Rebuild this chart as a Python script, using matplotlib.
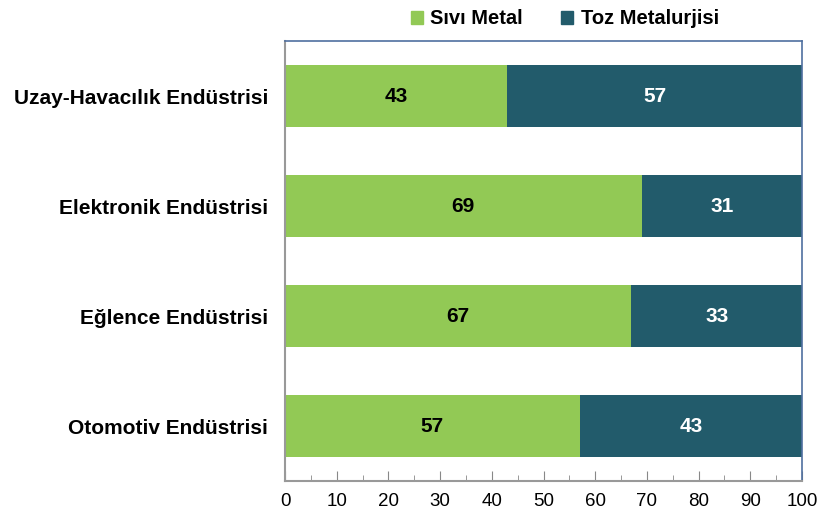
import matplotlib
matplotlib.use("Agg")
import matplotlib.pyplot as plt
from matplotlib.ticker import MultipleLocator
from matplotlib.patches import Patch

plt.rcParams['font.family'] = ['Liberation Sans', 'DejaVu Sans']

categories = ["Otomotiv Endüstrisi", "Eğlence Endüstrisi", "Elektronik Endüstrisi", "Uzay-Havacılık Endüstrisi"]
sivi = [57, 67, 69, 43]
toz = [43, 33, 31, 57]
series_names = ["Sıvı Metal", "Toz Metalurjisi"]
green = "#92C955"
teal = "#225B6B"

fig = plt.figure(figsize=(8.22, 5.18), dpi=100)
ax = fig.add_axes([285/822, 1-481/518, (802-285)/822, (481-41)/518])

y = list(range(len(categories)))
ax.barh(y, sivi, height=0.56, color=green)
ax.barh(y, toz, left=sivi, height=0.56, color=teal)
for i in y:
    ax.text(sivi[i]/2, i, str(sivi[i]), ha='center', va='center', fontsize=15, fontweight='bold', color='black')
    ax.text(sivi[i] + toz[i]/2, i, str(toz[i]), ha='center', va='center', fontsize=15, fontweight='bold', color='white')

ax.set_xlim(0, 100)
ax.set_ylim(-0.5, 3.5)
ax.set_yticks(y)
ax.set_yticklabels(categories, fontsize=15, fontweight='bold')
ax.tick_params(axis='y', length=0, pad=12)
ax.xaxis.set_major_locator(MultipleLocator(10))
ax.xaxis.set_minor_locator(MultipleLocator(5))
ax.tick_params(axis='x', which='major', direction='in', length=7, color='#888888', labelsize=13.5, pad=9)
ax.tick_params(axis='x', which='minor', direction='in', length=4, color='#888888')
for s in ['left', 'bottom']:
    ax.spines[s].set_color('#999999')
    ax.spines[s].set_linewidth(1.5)
for s in ['top', 'right']:
    ax.spines[s].set_color('#4F6FA0')
    ax.spines[s].set_linewidth(1.2)

handles = [Patch(color=green), Patch(color=teal)]
fig.legend(handles, series_names, loc='center', bbox_to_anchor=(565/822, 1-19/518), ncol=2,
           frameon=False, prop={'weight': 'bold', 'size': 14.5}, handlelength=0.6, handleheight=0.6,
           handletextpad=0.35, columnspacing=1.9)

fig.savefig("out.png", dpi=100)
